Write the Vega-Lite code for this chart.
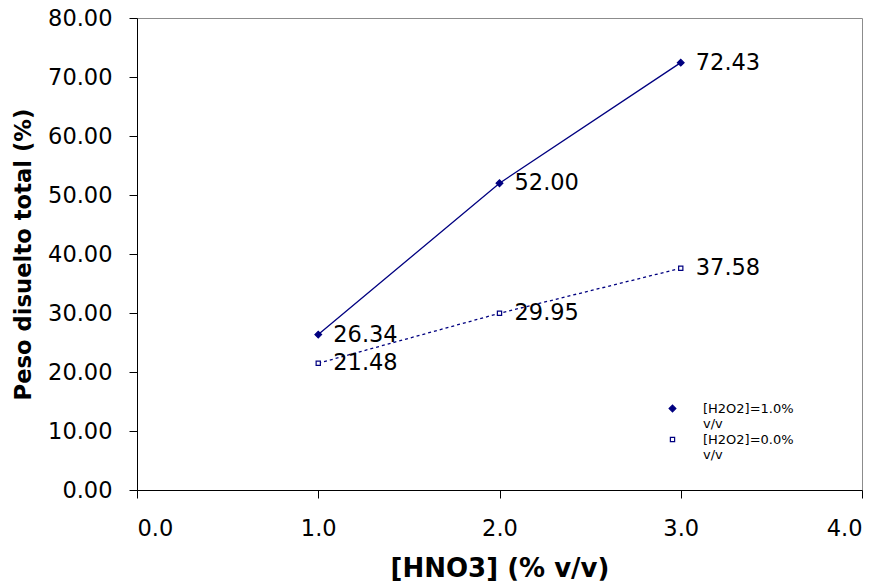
{
  "$schema": "https://vega.github.io/schema/vega-lite/v6.json",
  "width": 725,
  "height": 472,
  "padding": {"left": 137, "top": 18, "right": 23, "bottom": 93},
  "autosize": {"type": "none"},
  "config": {
    "font": "DejaVu Sans",
    "view": {"stroke": "#8c8c8c", "strokeWidth": 1},
    "axis": {
      "grid": false,
      "domainColor": "#000000",
      "tickColor": "#000000",
      "labelColor": "#000000",
      "titleColor": "#000000",
      "labelFont": "DejaVu Sans",
      "titleFont": "DejaVu Sans",
      "labelFontSize": 22.5,
      "titleFontWeight": "bold",
      "tickSize": 8
    }
  },
  "data": {
    "values": [
      {"hno3": 1.0, "peso": 26.34, "serie": "[H2O2]=1.0% v/v"},
      {"hno3": 2.0, "peso": 52.00, "serie": "[H2O2]=1.0% v/v"},
      {"hno3": 3.0, "peso": 72.43, "serie": "[H2O2]=1.0% v/v"},
      {"hno3": 1.0, "peso": 21.48, "serie": "[H2O2]=0.0% v/v"},
      {"hno3": 2.0, "peso": 29.95, "serie": "[H2O2]=0.0% v/v"},
      {"hno3": 3.0, "peso": 37.58, "serie": "[H2O2]=0.0% v/v"}
    ]
  },
  "encoding": {
    "x": {
      "field": "hno3",
      "type": "quantitative",
      "title": "[HNO3] (% v/v)",
      "scale": {"domain": [0, 4], "nice": false},
      "axis": {"values": [0, 1, 2, 3, 4], "format": ".1f", "labelPadding": 19, "titlePadding": 16, "titleFontSize": 26}
    },
    "y": {
      "field": "peso",
      "type": "quantitative",
      "title": "Peso disuelto total (%)",
      "scale": {"domain": [0, 80], "nice": false},
      "axis": {"values": [0, 10, 20, 30, 40, 50, 60, 70, 80], "format": ".2f", "labelPadding": 17, "titlePadding": 12, "titleFontSize": 22.7}
    }
  },
  "layer": [
    {
      "transform": [{"filter": "datum.serie === '[H2O2]=1.0% v/v'"}],
      "mark": {"type": "line", "color": "#000080", "strokeWidth": 1.3}
    },
    {
      "transform": [{"filter": "datum.serie === '[H2O2]=0.0% v/v'"}],
      "mark": {"type": "line", "color": "#000080", "strokeWidth": 1.3, "strokeDash": [3, 3]}
    },
    {
      "mark": {"type": "point", "opacity": 1, "strokeWidth": 1.2, "stroke": "#000080"},
      "encoding": {
        "shape": {
          "field": "serie",
          "type": "nominal",
          "scale": {"domain": ["[H2O2]=1.0% v/v", "[H2O2]=0.0% v/v"], "range": ["diamond", "square"]},
          "legend": {
            "title": null,
            "orient": "none",
            "legendX": 529,
            "legendY": 384,
            "symbolStrokeWidth": 1.2,
            "symbolStrokeColor": "#000080",
            "labelFontSize": 13,
            "labelFont": "DejaVu Sans",
            "labelColor": "#000000",
            "labelOffset": 24,
            "labelExpr": "split(datum.label, ' ')",
            "rowPadding": 2
          }
        },
        "fill": {
          "field": "serie",
          "type": "nominal",
          "scale": {"domain": ["[H2O2]=1.0% v/v", "[H2O2]=0.0% v/v"], "range": ["#000080", "#ffffff"]}
        },
        "size": {
          "field": "serie",
          "type": "nominal",
          "scale": {"domain": ["[H2O2]=1.0% v/v", "[H2O2]=0.0% v/v"], "range": [45, 18]}
        }
      }
    },
    {
      "mark": {"type": "text", "align": "left", "baseline": "middle", "dx": 15, "fontSize": 22.5, "color": "#000000"},
      "encoding": {
        "text": {"field": "peso", "type": "quantitative", "format": ".2f"}
      }
    }
  ]
}
